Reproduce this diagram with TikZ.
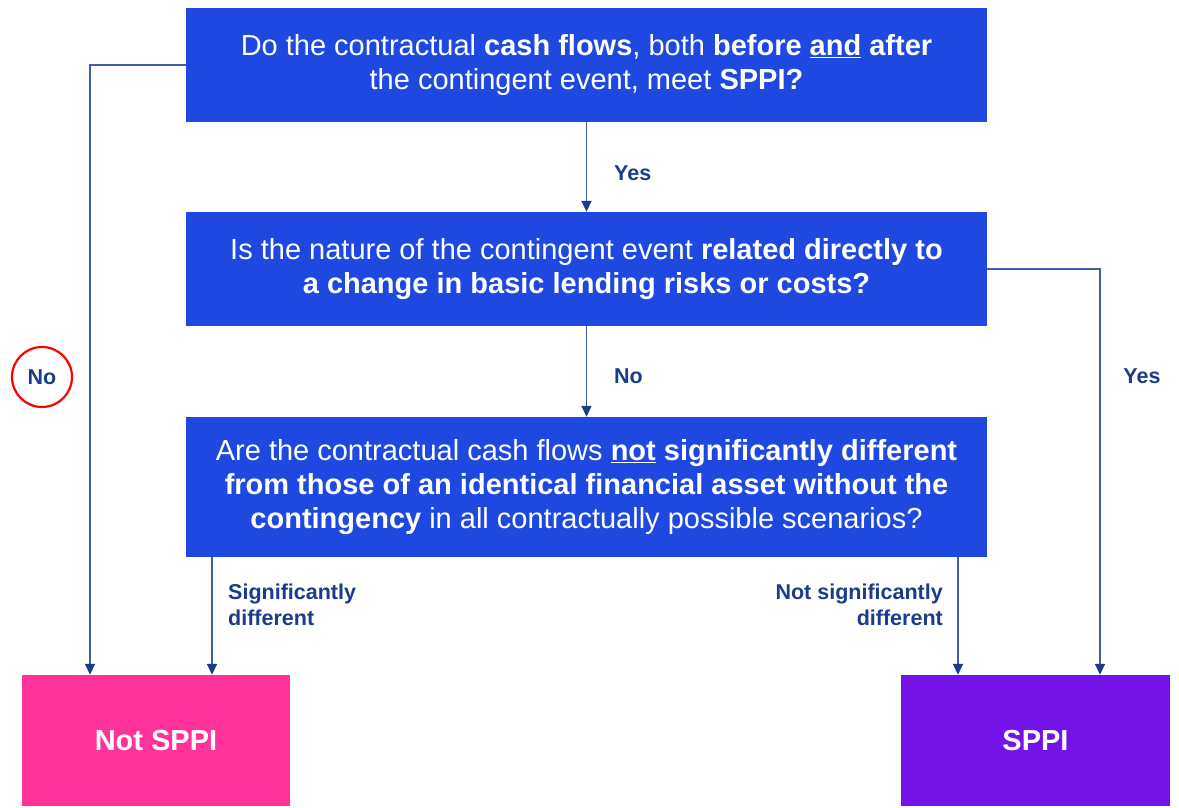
\documentclass[tikz,border=0pt]{standalone}
\usepackage{fontspec}
\setmainfont{Liberation Sans}
\usetikzlibrary{arrows.meta}
\definecolor{qblue}{HTML}{1F48E0}
\definecolor{notpink}{HTML}{FF3399}
\definecolor{okpurple}{HTML}{7313E8}
\definecolor{linkblue}{HTML}{3E5FA8}
\definecolor{labelnavy}{HTML}{1B3C8C}
\tikzset{
  question/.style = {shape=rectangle, fill=qblue, text=white,
                     minimum width=801pt, align=center,
                     font=\fontsize{29}{34}\selectfont, inner sep=0pt},
  outcome/.style  = {shape=rectangle, text=white, minimum width=268pt,
                     minimum height=131pt, font=\fontsize{29}{34}\selectfont\bfseries},
  notsppi/.style  = {outcome, fill=notpink},
  sppi/.style     = {outcome, fill=okpurple},
  answer/.style   = {text=labelnavy, font=\fontsize{21.5}{26}\selectfont\bfseries,
                     inner sep=0pt},
  link/.style     = {draw=linkblue, line width=1.6pt,
                     -{Triangle[length=11pt,width=10pt,color=labelnavy]}}
}
\begin{document}
\begin{tikzpicture}[x=1pt, y=-1pt]
  \useasboundingbox (0,0) rectangle (1179,808);
  % questions
  \node[question, minimum height=114pt] (cashflows) at (586.5,65)
    {Do the contractual \textbf{cash flows}, both \textbf{before \underline{and} after}\\
     the contingent event, meet \textbf{SPPI?}};
  \node[question, minimum height=114pt] (nature) at (586.5,269)
    {Is the nature of the contingent event \textbf{related directly to}\\
     \textbf{a change in basic lending risks or costs?}};
  \node[question, minimum height=140pt] (contingency) at (586.5,487)
    {Are the contractual cash flows \textbf{\underline{not} significantly different}\\
     \textbf{from those of an identical financial asset without the}\\
     \textbf{contingency} in all contractually possible scenarios?};
  % outcomes
  \node[notsppi] (notsppi) at (156,740.5) {Not SPPI};
  \node[sppi, minimum width=269pt] (sppi) at (1035.5,740.5) {SPPI};
  % turning points
  \coordinate (noleft)   at ([xshift=-66pt]notsppi.north);
  \coordinate (sigdiff)  at ([xshift=56pt]notsppi.north);
  \coordinate (notdiff)  at ([xshift=-77.5pt]sppi.north);
  \coordinate (yesright) at ([xshift=64.5pt]sppi.north);
  % connectors
  \draw[link] (cashflows) -- (nature);
  \draw[link] (nature) -- (contingency);
  \draw[link] (cashflows.west) -| (noleft);
  \draw[link] (nature.east) -| (yesright);
  \draw[link] (contingency.south -| sigdiff) -- (sigdiff);
  \draw[link] (contingency.south -| notdiff) -- (notdiff);
  % answers
  \node[answer, anchor=west] (yesone) at (614,173) {Yes};
  \node[answer, anchor=west] (noone)  at (614,376) {No};
  \node[answer] (yestwo) at (1142,376) {Yes};
  \node[answer] (nothree) at (42,377) {No};
  \draw[red, line width=2.2pt] (nothree) circle (30pt);
  \node[answer, anchor=north west, align=left] (siglabel) at (228,584)
    {Significantly\\different};
  \node[answer, anchor=north east, align=right] (notsiglabel) at (943,584)
    {Not significantly\\different};
\end{tikzpicture}
\end{document}
